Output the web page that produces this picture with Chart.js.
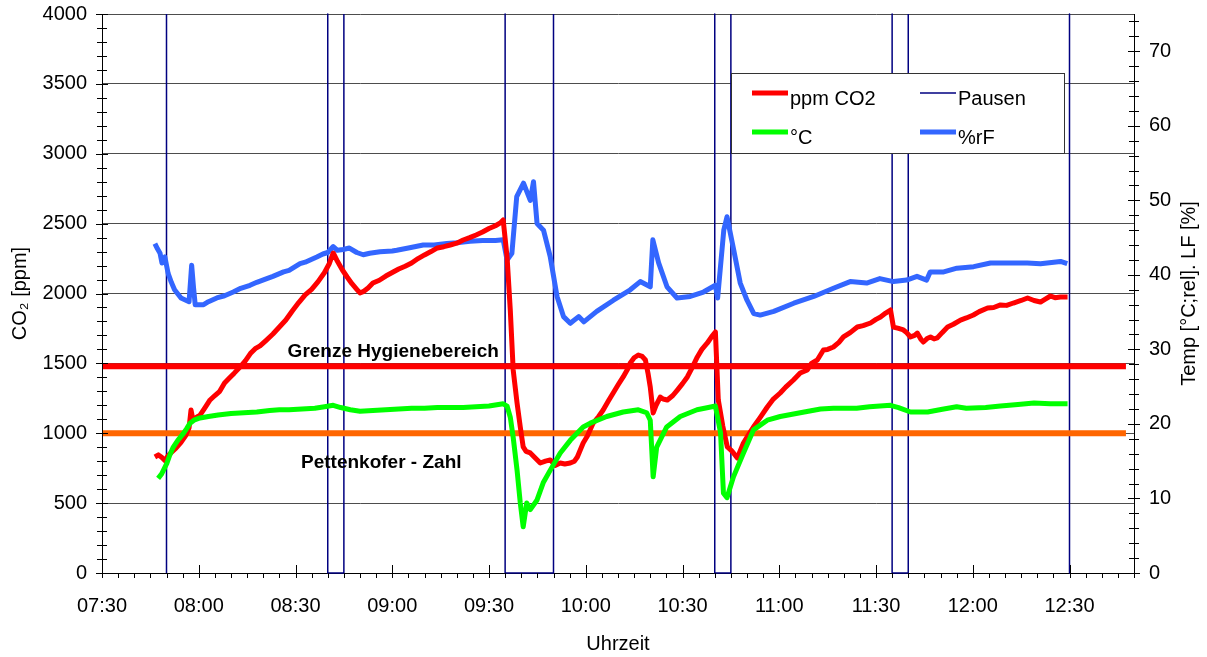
<!DOCTYPE html>
<html lang="de">
<head>
<meta charset="utf-8">
<title>CO2, Temperatur und Luftfeuchte im Klassenraum</title>
<script src="https://cdn.jsdelivr.net/npm/chart.js@4.4.1/dist/chart.umd.min.js"></script>
<style>
  html, body { margin: 0; padding: 0; background: #fff; }
  #wrap { width: 1207px; height: 657px; }
</style>
</head>
<body>
<div id="wrap"><canvas id="chart" width="1207" height="657"></canvas></div>
<script>
// Time axis: minutes after 07:30
const AXIS_START = '07:30';
const AXIS_END = '12:50';
const timeLabels = ['07:30', '08:00', '08:30', '09:00', '09:30', '10:00', '10:30', '11:00', '11:30', '12:00', '12:30'];

// Break boundaries (lesson end / lesson start)
const pausenMarks = ['07:50', '08:40', '08:45', '09:35', '09:50', '10:40', '10:45', '11:35', '11:40', '12:30'];

// Reference limits in ppm
const hygieneLimit = 1480;
const pettenkoferLimit = 1000;

// [minutes after 07:30, ppm CO2]
const co2Readings = [
  [16.4,830],[17.5,845],[18.5,828],[19.5,805],[20.5,840],[21.5,862],[23,895],[24.5,935],[26,985],[27,1040],
  [27.6,1166],[28.2,1095],[29,1110],[30.4,1130],[32,1185],[33.5,1238],[35,1270],[36.5,1300],[38,1360],[39.5,1395],
  [41,1430],[42.8,1474],[44.5,1520],[46,1570],[47.5,1605],[49,1625],[51,1667],[53,1710],[55,1760],[57,1810],
  [59,1875],[61,1935],[63,1990],[65,2030],[67,2085],[69,2150],[70.5,2215],[71.7,2290],[73,2230],[74.5,2170],
  [76,2118],[77.5,2070],[79,2030],[80,2004],[81,2013],[82.5,2040],[84,2075],[86,2095],[88,2125],[90,2150],
  [92,2175],[94,2195],[96,2218],[98,2250],[100,2276],[102,2300],[104,2326],[106,2335],[108,2347],[110,2360],
  [112,2383],[114,2400],[116,2419],[118,2440],[120,2465],[122,2485],[123.5,2505],[124.4,2526],[125.6,2261],[126.6,1882],
  [127.5,1453],[128.7,1216],[129.7,1045],[130.6,902],[131.5,870],[132.8,859],[134.5,820],[135.9,787],[137.5,800],[139,809],
  [140.5,770],[142.1,787],[143.5,780],[145.2,787],[146.5,800],[147.4,830],[149.2,930],[150.5,980],[152.3,1073],[154,1120],
  [155.4,1166],[157,1230],[158.5,1288],[160,1345],[161.6,1403],[163,1460],[163.8,1503],[165,1540],[166.3,1560],[167.5,1550],
  [168.5,1524],[169.3,1430],[170,1331],[170.9,1145],[171.8,1200],[173.1,1259],[174,1245],[175.3,1238],[177,1270],[178.4,1309],
  [180,1355],[181.5,1403],[183,1470],[184.6,1546],[186,1600],[187.7,1646],[189,1690],[190.2,1725],[191.1,1238],[192.5,1050],
  [193.9,902],[195,880],[195.8,859],[197,823],[198.9,930],[200.5,990],[202,1045],[204,1110],[206.3,1188],[208,1240],
  [210.3,1288],[212,1330],[214.4,1381],[216.5,1431],[218.7,1453],[220,1500],[221.8,1524],[223.7,1596],[225,1600],[226.8,1617],
  [228.5,1650],[229.9,1689],[232,1720],[234.2,1760],[236,1770],[238.3,1789],[240,1815],[241.4,1832],[243,1860],[244.5,1882],
  [245.4,1760],[247,1750],[248.5,1739],[249.5,1720],[250.7,1689],[252,1700],[252.8,1717],[254,1670],[254.7,1653],[256,1680],
  [256.9,1689],[258,1675],[259,1682],[260.5,1720],[262.2,1760],[264,1780],[266.2,1810],[268,1825],[270.2,1846],[272,1870],
  [274.6,1896],[276.5,1900],[278.6,1918],[280.5,1915],[282.6,1932],[285,1950],[287,1968],[289,1950],[291,1939],[292.5,1960],
  [294.1,1982],[295.5,1970],[297.2,1975],[299.4,1975]
];

// [minutes after 07:30, air temperature in °C]
const tempReadings = [
  [17.4,12.7],[18.5,13.3],[20.1,14.7],[21,15.8],[22.1,16.9],[23.5,17.8],[25.2,18.7],[26.3,19.4],[27.3,20.1],[28.5,20.5],
  [30.4,20.8],[33,21.0],[36,21.2],[40,21.4],[44,21.5],[48,21.6],[52,21.8],[55,21.9],[58,21.9],[62,22.0],
  [66,22.1],[69,22.3],[71.7,22.5],[74,22.2],[77,21.9],[80,21.7],[84,21.8],[88,21.9],[92,22.0],[96,22.1],
  [100,22.1],[104,22.2],[108,22.2],[112,22.2],[116,22.3],[120,22.4],[124.4,22.7],[125.6,22.4],[126.6,20.9],[127.5,18.2],
  [128.7,13.8],[129.7,9.4],[130.6,6.2],[131.7,9.4],[132.8,8.5],[134.9,9.8],[136.8,12.1],[139,13.8],[142.1,16.1],[145.2,17.8],
  [149.2,19.6],[151.4,20.1],[156.5,21.0],[161.6,21.6],[166.3,21.9],[168.9,21.5],[170,20.5],[170.9,12.9],[172,16.9],[175.1,19.6],
  [179.3,21.0],[184.5,21.9],[188,22.2],[190.2,22.4],[191.8,18.8],[192.7,10.7],[193.8,10.1],[195.8,12.9],[198.9,16.1],[202,19.2],
  [206.3,20.5],[210.3,21.0],[216.5,21.5],[222.8,22.0],[226.8,22.1],[234,22.1],[238,22.3],[244.5,22.5],[247,22.2],[250.7,21.6],
  [256,21.6],[261,22.0],[265,22.3],[268,22.1],[274,22.2],[278.6,22.4],[284,22.6],[289,22.8],[294,22.7],[299.4,22.7]
];

// [minutes after 07:30, relative humidity in %]
const humidityReadings = [
  [16.4,44.2],[17.2,43.5],[18,42.9],[18.6,41.6],[19.5,42.4],[20.5,40.2],[21.5,39.0],[22.5,38.0],[24.5,36.9],[26,36.6],
  [27,36.4],[27.8,41.3],[28.4,38.2],[28.9,36.0],[31.5,36.0],[33,36.4],[35.6,36.9],[38,37.2],[40.7,37.7],[43,38.2],
  [45.9,38.6],[48,39.0],[51.1,39.5],[53,39.8],[56.3,40.4],[58,40.6],[61.4,41.5],[63,41.7],[66.6,42.4],[68.5,42.8],
  [70,43.0],[71.7,43.8],[73,43.3],[74.8,43.4],[76.7,43.6],[79,43.0],[81,42.7],[83,42.9],[86.2,43.1],[90,43.2],
  [91.4,43.3],[95,43.6],[99.6,44.0],[103,44.0],[106.9,44.2],[110,44.3],[114.1,44.5],[118,44.6],[122,44.6],[124.4,44.7],
  [125.6,42.0],[127.1,42.9],[128.6,50.5],[130.7,52.3],[132.8,50.0],[133.8,52.5],[134.9,46.9],[136.9,46.0],[139,42.4],[141.1,37.1],
  [143.1,34.4],[145.2,33.5],[147.8,34.4],[149.4,33.7],[151.4,34.4],[153.4,35.1],[158.6,36.6],[163.8,38.0],[166.9,39.1],[170,38.4],
  [170.8,44.7],[172.6,41.6],[175.2,38.4],[178.3,36.9],[182.4,37.1],[186.5,37.7],[190.2,38.6],[190.9,36.9],[192.8,46.0],[193.8,47.8],
  [195.9,43.3],[197.9,38.9],[200,36.6],[202.1,34.8],[204.1,34.6],[208.3,35.1],[214.5,36.2],[220.7,37.1],[226.8,38.2],[232,39.1],
  [237.1,38.9],[241.2,39.5],[245.4,39.1],[249.5,39.3],[252.7,39.8],[255.7,39.3],[256.8,40.4],[261,40.4],[265.1,40.9],[270.3,41.1],
  [275.5,41.6],[280.6,41.6],[286.9,41.6],[291,41.5],[297.2,41.8],[299.3,41.5]
];

const FONT = "'Liberation Sans', Arial, sans-serif";
const CO2_MAX = 4000;

function clockToMinutes(hhmm) {
  const [h, m] = hhmm.split(':').map(Number);
  const [h0, m0] = AXIS_START.split(':').map(Number);
  return (h * 60 + m) - (h0 * 60 + m0);
}
function minutesToClock(min) {
  const [h0, m0] = AXIS_START.split(':').map(Number);
  const total = h0 * 60 + m0 + Math.round(min);
  const h = Math.floor(total / 60), m = total % 60;
  return String(h).padStart(2, '0') + ':' + String(m).padStart(2, '0');
}
const toPoints = rows => rows.map(([x, y]) => ({ x, y }));

// Square wave for the breaks: up at lesson start, down at lesson end, gaps along the top
function buildPausen() {
  const pts = [];
  pausenMarks.forEach((mark, i) => {
    const x = clockToMinutes(mark);
    if (i % 2 === 1) {
      pts.push({ x, y: CO2_MAX }, { x, y: 0 });
    } else {
      pts.push({ x, y: 0 }, { x, y: CO2_MAX }, { x, y: null });
    }
  });
  return pts;
}

const xMin = clockToMinutes(AXIS_START);
const xMax = clockToMinutes(AXIS_END);
const limitStart = 0.3, limitEnd = 317.5;

// Vertical axes: fixed width, top edge of the plot 14px below the canvas top
const fitVertical = width => s => { s.width = width; s.paddingTop = 14; s.paddingBottom = 0; };

// Minor tick marks and axis decorations
const axisDecor = {
  id: 'axisDecor',
  afterDraw(chart) {
    const { ctx, chartArea: a, scales } = chart;
    const x = scales.x, y = scales.y, y1 = scales.y1;
    ctx.save();
    ctx.strokeStyle = '#000';
    ctx.lineWidth = 1;
    ctx.beginPath();
    for (let v = 0; v <= CO2_MAX; v += 100) {
      const p = Math.round(y.getPixelForValue(v)) + 0.5;
      const len = v % 500 === 0 ? 6 : 5;
      ctx.moveTo(a.left - len, p); ctx.lineTo(a.left + len, p);
    }
    for (let v = 0; v <= 74; v += 2) {
      const p = Math.round(y1.getPixelForValue(v)) + 0.5;
      const len = v % 10 === 0 ? 6 : 5;
      ctx.moveTo(a.right - len, p); ctx.lineTo(a.right + len, p);
    }
    for (let m = xMin; m <= xMax; m += 5) {
      const p = Math.round(x.getPixelForValue(m)) + 0.5;
      if (m % 30 === 0) { ctx.moveTo(p, a.bottom - 8); ctx.lineTo(p, a.bottom + 5); }
      else { ctx.moveTo(p, a.bottom); ctx.lineTo(p, a.bottom + 5); }
    }
    ctx.stroke();

    // right axis title, reading bottom to top
    ctx.fillStyle = '#000';
    ctx.font = '20px ' + FONT;
    ctx.textAlign = 'center';
    ctx.textBaseline = 'middle';
    ctx.translate(1189, (a.top + a.bottom) / 2);
    ctx.rotate(-Math.PI / 2);
    ctx.fillText('Temp [°C;rel]. LF [%]', 0, 0);
    ctx.restore();
  }
};

// Captions for the two limit lines
const limitCaptions = {
  id: 'limitCaptions',
  afterDatasetsDraw(chart) {
    const { ctx, scales } = chart;
    ctx.save();
    ctx.fillStyle = '#000';
    ctx.font = 'bold 19px ' + FONT;
    ctx.textAlign = 'center';
    ctx.textBaseline = 'middle';
    ctx.fillText('Grenze Hygienebereich', scales.x.getPixelForValue(90.3), scales.y.getPixelForValue(hygieneLimit) - 14);
    ctx.fillText('Pettenkofer - Zahl', scales.x.getPixelForValue(86.6), scales.y.getPixelForValue(pettenkoferLimit) + 30);
    ctx.restore();
  }
};

// Boxed legend inside the plot area
const boxLegend = {
  id: 'boxLegend',
  afterDatasetsDraw(chart) {
    const { ctx } = chart;
    const box = { x: 731.5, y: 73.5, w: 333, h: 80 };
    const items = [
      { label: 'ppm CO2', col: 0, row: 0 },
      { label: 'Pausen', col: 1, row: 0 },
      { label: '°C', col: 0, row: 1 },
      { label: '%rF', col: 1, row: 1 }
    ];
    ctx.save();
    ctx.fillStyle = '#fff';
    ctx.fillRect(box.x, box.y, box.w, box.h);
    ctx.strokeStyle = '#333';
    ctx.lineWidth = 1;
    ctx.strokeRect(box.x, box.y, box.w, box.h);
    ctx.font = '20px ' + FONT;
    ctx.textBaseline = 'middle';
    ctx.textAlign = 'left';
    items.forEach(it => {
      const ds = chart.data.datasets.find(d => d.label === it.label);
      const lx = it.col === 0 ? 752 : 920;
      const ly = it.row === 0 ? 93 : 132;
      ctx.strokeStyle = ds.borderColor;
      ctx.lineWidth = ds.borderWidth;
      ctx.lineCap = 'butt';
      ctx.beginPath();
      ctx.moveTo(lx, ly); ctx.lineTo(lx + 36, ly);
      ctx.stroke();
      ctx.fillStyle = '#000';
      ctx.fillText(it.label, lx + 38, ly + 6);
    });
    ctx.restore();
  }
};

const lineBase = { pointRadius: 0, tension: 0, fill: false, borderJoinStyle: 'round', borderCapStyle: 'butt' };

new Chart(document.getElementById('chart'), {
  type: 'line',
  data: {
    datasets: [
      Object.assign({ label: '°C', data: toPoints(tempReadings), borderColor: '#00ff00', borderWidth: 5, yAxisID: 'y1', order: 1 }, lineBase),
      Object.assign({ label: 'ppm CO2', data: toPoints(co2Readings), borderColor: '#ff0000', borderWidth: 5, yAxisID: 'y', order: 2 }, lineBase),
      Object.assign({ label: '%rF', data: toPoints(humidityReadings), borderColor: '#3366ff', borderWidth: 5, yAxisID: 'y1', order: 3 }, lineBase),
      Object.assign({ label: 'Grenze Hygienebereich', data: [{ x: limitStart, y: hygieneLimit }, { x: limitEnd, y: hygieneLimit }], borderColor: '#ff0000', borderWidth: 6, yAxisID: 'y', order: 4 }, lineBase),
      Object.assign({ label: 'Pettenkofer - Zahl', data: [{ x: limitStart, y: pettenkoferLimit }, { x: limitEnd, y: pettenkoferLimit }], borderColor: '#ff6600', borderWidth: 6, yAxisID: 'y', order: 5 }, lineBase),
      Object.assign({ label: 'Pausen', data: buildPausen(), borderColor: '#000080', borderWidth: 1.5, yAxisID: 'y', order: 6, spanGaps: false, clip: false }, lineBase)
    ]
  },
  options: {
    responsive: false,
    animation: false,
    devicePixelRatio: 1,
    layout: { padding: 0 },
    plugins: { legend: { display: false }, tooltip: { enabled: false } },
    scales: {
      x: {
        type: 'linear',
        min: xMin,
        max: xMax,
        afterBuildTicks: s => { s.ticks = timeLabels.map(t => ({ value: clockToMinutes(t) })); },
        afterFit: s => { s.height = 84; },
        grid: { display: false, drawTicks: false },
        border: { display: true, color: '#000', width: 1 },
        ticks: { padding: 21, maxRotation: 0, autoSkip: false, color: '#000', font: { family: FONT, size: 20 }, callback: v => minutesToClock(v) },
        title: { display: true, text: 'Uhrzeit', color: '#000', font: { family: FONT, size: 20 }, padding: { top: 0, bottom: 1 } }
      },
      y: {
        position: 'left',
        min: 0,
        max: CO2_MAX,
        afterFit: fitVertical(102),
        ticks: { stepSize: 500, padding: 15, color: '#000', font: { family: FONT, size: 20 }, callback: v => String(v) },
        grid: { color: '#4d4d4d', lineWidth: 1, drawTicks: false },
        border: { display: true, color: '#000', width: 1 },
        title: { display: true, text: 'CO₂ [ppm]', color: '#000', font: { family: FONT, size: 20 }, padding: { top: 8, bottom: 0 } }
      },
      y1: {
        position: 'right',
        min: 0,
        max: 75,
        afterFit: fitVertical(73),
        afterBuildTicks: s => { s.ticks = s.ticks.filter(t => t.value % 10 === 0); },
        ticks: { stepSize: 10, padding: 15, color: '#000', font: { family: FONT, size: 20 }, callback: v => String(v) },
        grid: { display: false, drawTicks: false },
        border: { display: true, color: '#000', width: 1 }
      }
    }
  },
  plugins: [axisDecor, limitCaptions, boxLegend]
});
</script>
</body>
</html>
